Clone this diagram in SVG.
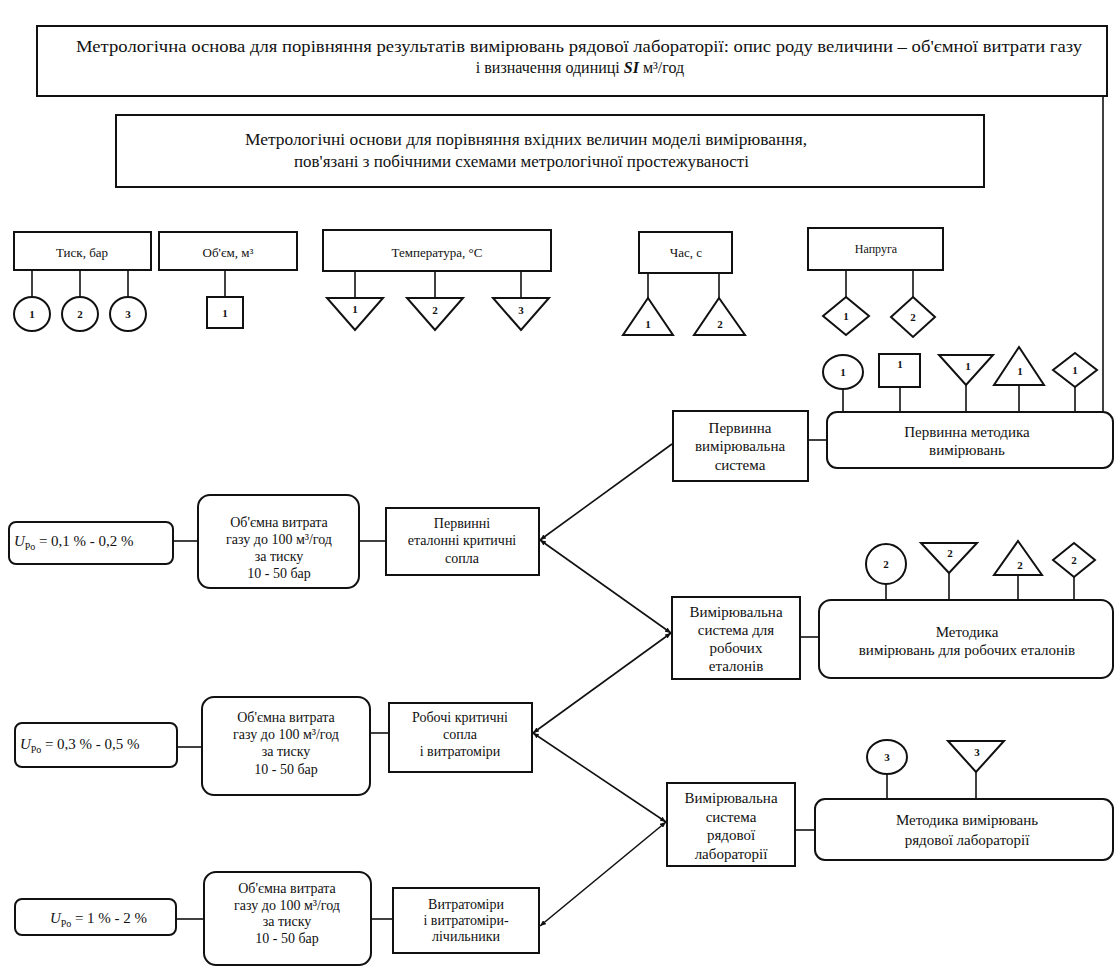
<svg xmlns="http://www.w3.org/2000/svg" width="1115" height="969" viewBox="0 0 1115 969">
<style>
.bx{fill:#fff;stroke:#111;stroke-width:2}
.sh{fill:#fff;stroke:#111;stroke-width:2}
.ln{stroke:#111;stroke-width:1.6;fill:none}
.t{font-family:"Liberation Serif","Times New Roman",serif;fill:#111}
.c{text-anchor:middle}
.f16{font-size:16px}
.f15{font-size:15px}
.f14{font-size:14px}
.f13{font-size:13px}
.f11{font-size:11px;font-weight:bold}
</style>
<defs>
<marker id="ah" markerUnits="userSpaceOnUse" markerWidth="7" markerHeight="5" refX="6" refY="2.5" orient="auto-start-reverse">
<path d="M0,0 L6,2.5 L0,5 z" fill="#111"/>
</marker>
</defs>
<rect width="1115" height="969" fill="#fff"/>

<g id="connectors">
<line class="ln" x1="1103" y1="96" x2="1103" y2="412"/>
<line class="ln" x1="32" y1="270" x2="32" y2="297"/>
<line class="ln" x1="80" y1="270" x2="80" y2="297"/>
<line class="ln" x1="128" y1="270" x2="128" y2="297"/>
<line class="ln" x1="225" y1="270" x2="225" y2="297"/>
<line class="ln" x1="355" y1="271" x2="355" y2="298"/>
<line class="ln" x1="435" y1="271" x2="435" y2="298"/>
<line class="ln" x1="521" y1="271" x2="521" y2="298"/>
<line class="ln" x1="648" y1="273" x2="648" y2="298"/>
<line class="ln" x1="719" y1="273" x2="719" y2="298"/>
<line class="ln" x1="846" y1="270" x2="846" y2="297"/>
<line class="ln" x1="913" y1="270" x2="913" y2="297"/>
<line class="ln" x1="843" y1="389" x2="843" y2="412"/>
<line class="ln" x1="900" y1="387" x2="900" y2="412"/>
<line class="ln" x1="966" y1="385" x2="966" y2="412"/>
<line class="ln" x1="1019" y1="385" x2="1019" y2="412"/>
<line class="ln" x1="1075" y1="387" x2="1075" y2="412"/>
<line class="ln" x1="886" y1="584" x2="886" y2="600"/>
<line class="ln" x1="949" y1="573" x2="949" y2="600"/>
<line class="ln" x1="1018" y1="575" x2="1018" y2="600"/>
<line class="ln" x1="1074" y1="576" x2="1074" y2="600"/>
<line class="ln" x1="887" y1="774" x2="887" y2="799"/>
<line class="ln" x1="976" y1="772" x2="976" y2="799"/>
<line class="ln" x1="808" y1="440" x2="827" y2="440"/>
<line class="ln" x1="800" y1="637" x2="819" y2="637"/>
<line class="ln" x1="795" y1="830" x2="815" y2="830"/>
<line class="ln" x1="173" y1="541" x2="198" y2="541"/>
<line class="ln" x1="359" y1="541" x2="386" y2="541"/>
<line class="ln" x1="177" y1="747" x2="202" y2="747"/>
<line class="ln" x1="370" y1="733" x2="389" y2="733"/>
<line class="ln" x1="176" y1="919" x2="204" y2="919"/>
<line class="ln" x1="371" y1="919" x2="393" y2="919"/>
<line class="ln" x1="672" y1="444" x2="540" y2="540" marker-end="url(#ah)"/>
<line class="ln" x1="540" y1="540" x2="671" y2="633" marker-start="url(#ah)" marker-end="url(#ah)"/>
<line class="ln" x1="533" y1="733" x2="671" y2="633" marker-start="url(#ah)" marker-end="url(#ah)"/>
<line class="ln" x1="533" y1="733" x2="666" y2="822" marker-start="url(#ah)" marker-end="url(#ah)"/>
<line class="ln" x1="540" y1="926" x2="666" y2="822" marker-start="url(#ah)" marker-end="url(#ah)"/>
</g>

<g id="top-basis">
<rect class="bx" x="37" y="26" width="1070" height="70"/>
<text class="t f16" x="76" y="52" textLength="1006" lengthAdjust="spacingAndGlyphs">Метрологічна основа для порівняння результатів вимірювань   рядової лабораторії: опис  роду величини – об'ємної витрати газу</text>
<text class="t f16 c" x="580" y="73">і визначення одиниці <tspan font-style="italic" font-weight="bold">SI</tspan> м³/год</text>
</g>

<g id="input-basis">
<rect class="bx" x="116" y="115" width="868" height="72"/>
<text class="t f16" x="245" y="145" textLength="562" lengthAdjust="spacingAndGlyphs">Метрологічні основи для порівняння вхідних величин  моделі вимірювання,</text>
<text class="t f16" x="294" y="167" textLength="455" lengthAdjust="spacingAndGlyphs">пов'язані з побічними схемами метрологічної простежуваності</text>
</g>

<g id="pressure">
<rect class="bx" x="14" y="232" width="137" height="38"/>
<text class="t f13 c" x="82" y="257">Тиск, бар</text>
<ellipse class="sh" cx="32" cy="314" rx="18" ry="17"/>
<text class="t f11 c" x="32" y="318">1</text>
<ellipse class="sh" cx="80" cy="314" rx="18" ry="17"/>
<text class="t f11 c" x="80" y="318">2</text>
<ellipse class="sh" cx="128" cy="314" rx="18" ry="17"/>
<text class="t f11 c" x="128" y="318">3</text>
</g>

<g id="volume">
<rect class="bx" x="159" y="232" width="138" height="38"/>
<text class="t f13 c" x="228" y="257">Об'єм, м³</text>
<rect class="sh" x="207" y="297" width="36" height="31"/>
<text class="t f11 c" x="225" y="317">1</text>
</g>

<g id="temperature">
<rect class="bx" x="323" y="230" width="228" height="41"/>
<text class="t f13 c" x="437" y="257">Температура, °С</text>
<polygon class="sh" points="327,298 383,298 355,330"/>
<text class="t f11 c" x="355" y="313">1</text>
<polygon class="sh" points="407,298 463,298 435,330"/>
<text class="t f11 c" x="435" y="314">2</text>
<polygon class="sh" points="493,298 549,298 521,330"/>
<text class="t f11 c" x="521" y="314">3</text>
</g>

<g id="time">
<rect class="bx" x="639" y="232" width="93" height="41"/>
<text class="t f13 c" x="686" y="257">Час, с</text>
<polygon class="sh" points="648,298 673,335 623,335"/>
<text class="t f11 c" x="648" y="328">1</text>
<polygon class="sh" points="719,298 745,335 694,335"/>
<text class="t f11 c" x="720" y="328">2</text>
</g>

<g id="voltage">
<rect class="bx" x="808" y="228" width="135" height="42"/>
<text class="t c" style="font-size:12px" x="876" y="253">Напруга</text>
<polygon class="sh" points="846,297 869,316 846,335 823,316"/>
<text class="t f11 c" x="846" y="320">1</text>
<polygon class="sh" points="913,297 935,317 913,337 891,317"/>
<text class="t f11 c" x="913" y="321">2</text>
</g>

<g id="primary-method">
<ellipse class="sh" cx="843" cy="372" rx="20" ry="17"/>
<text class="t f11 c" x="843" y="376">1</text>
<rect class="sh" x="879" y="354" width="41" height="33"/>
<text class="t f11 c" x="900" y="368">1</text>
<polygon class="sh" points="939,355 993,355 966,385"/>
<text class="t f11 c" x="968" y="370">1</text>
<polygon class="sh" points="1019,347 1044,385 994,385"/>
<text class="t f11 c" x="1020" y="375">1</text>
<polygon class="sh" points="1075,353 1097,370 1075,387 1053,370"/>
<text class="t f11 c" x="1075" y="374">1</text>
<rect class="bx" x="827" y="412" width="286" height="56" rx="10"/>
<text class="t f15 c" x="967" y="437">Первинна методика</text>
<text class="t f15 c" x="967" y="455">вимірювань</text>
</g>

<g id="primary-system">
<rect class="bx" x="673" y="411" width="135" height="70"/>
<text class="t f15 c" x="740" y="433">Первинна</text>
<text class="t f15 c" x="740" y="451">вимірювальна</text>
<text class="t f15 c" x="740" y="470">система</text>
</g>

<g id="working-method">
<ellipse class="sh" cx="886" cy="564" rx="20" ry="20"/>
<text class="t f11 c" x="886" y="568">2</text>
<polygon class="sh" points="921,543 977,543 949,573"/>
<text class="t f11 c" x="950" y="557">2</text>
<polygon class="sh" points="1018,541 1042,575 994,575"/>
<text class="t f11 c" x="1020" y="569">2</text>
<polygon class="sh" points="1074,543 1095,560 1074,577 1053,560"/>
<text class="t f11 c" x="1074" y="564">2</text>
<rect class="bx" x="819" y="600" width="294" height="78" rx="12"/>
<text class="t f15 c" x="967" y="637">Методика</text>
<text class="t f15 c" x="967" y="655">вимірювань  для робочих еталонів</text>
</g>

<g id="working-system">
<rect class="bx" x="672" y="597" width="128" height="82"/>
<text class="t f15 c" x="736" y="617">Вимірювальна</text>
<text class="t f15 c" x="736" y="635">система  для</text>
<text class="t f15 c" x="736" y="653">робочих</text>
<text class="t f15 c" x="736" y="671">еталонів</text>
</g>

<g id="lab-method">
<ellipse class="sh" cx="887" cy="757" rx="20" ry="17"/>
<text class="t f11 c" x="887" y="761">3</text>
<polygon class="sh" points="948,741 1004,741 976,772"/>
<text class="t f11 c" x="977" y="756">3</text>
<rect class="bx" x="815" y="799" width="298" height="61" rx="10"/>
<text class="t f15 c" x="967" y="825">Методика вимірювань</text>
<text class="t f15 c" x="967" y="845">рядової лабораторії</text>
</g>

<g id="lab-system">
<rect class="bx" x="667" y="783" width="128" height="83"/>
<text class="t f15 c" x="731" y="803">Вимірювальна</text>
<text class="t f15 c" x="731" y="822">система</text>
<text class="t f15 c" x="731" y="840">рядової</text>
<text class="t f15 c" x="731" y="859">лабораторії</text>
</g>

<g id="u1">
<rect class="bx" x="9" y="522" width="164" height="42" rx="7"/>
<text class="t f15" x="14" y="546"><tspan font-style="italic">U</tspan><tspan font-size="10" dy="4">Ро</tspan><tspan dy="-4"> = 0,1 % - 0,2 %</tspan></text>
</g>
<g id="flow1">
<rect class="bx" x="198" y="495" width="161" height="93" rx="12"/>
<text class="t f14 c" x="279" y="527">Об'ємна витрата</text>
<text class="t f14 c" x="279" y="544">газу до 100 м³/год</text>
<text class="t f14 c" x="279" y="561">за тиску</text>
<text class="t f14 c" x="279" y="578">10 - 50 бар</text>
</g>
<g id="nozzles1">
<rect class="bx" x="386" y="508" width="153" height="67"/>
<text class="t f14 c" x="462" y="528">Первинні</text>
<text class="t f14 c" x="462" y="545">еталонні критичні</text>
<text class="t f14 c" x="462" y="563">сопла</text>
</g>

<g id="u2">
<rect class="bx" x="15" y="723" width="162" height="44" rx="7"/>
<text class="t f15" x="20" y="749"><tspan font-style="italic">U</tspan><tspan font-size="10" dy="4">Ро</tspan><tspan dy="-4"> = 0,3 % - 0,5 %</tspan></text>
</g>
<g id="flow2">
<rect class="bx" x="202" y="697" width="168" height="98" rx="12"/>
<text class="t f14 c" x="286" y="722">Об'ємна витрата</text>
<text class="t f14 c" x="286" y="739">газу до 100 м³/год</text>
<text class="t f14 c" x="286" y="756">за тиску</text>
<text class="t f14 c" x="286" y="774">10 - 50 бар</text>
</g>
<g id="nozzles2">
<rect class="bx" x="389" y="703" width="143" height="69"/>
<text class="t f14 c" x="460" y="722">Робочі критичні</text>
<text class="t f14 c" x="460" y="739">сопла</text>
<text class="t f14 c" x="460" y="756">і витратоміри</text>
</g>

<g id="u3">
<rect class="bx" x="15" y="899" width="161" height="36" rx="7"/>
<text class="t f15" x="50" y="923"><tspan font-style="italic">U</tspan><tspan font-size="10" dy="4">Ро</tspan><tspan dy="-4"> = 1 % - 2 %</tspan></text>
</g>
<g id="flow3">
<rect class="bx" x="204" y="872" width="167" height="93" rx="12"/>
<text class="t f14 c" x="287" y="893">Об'ємна витрата</text>
<text class="t f14 c" x="287" y="910">газу до 100 м³/год</text>
<text class="t f14 c" x="287" y="926">за  тиску</text>
<text class="t f14 c" x="287" y="943">10 - 50 бар</text>
</g>
<g id="meters">
<rect class="bx" x="393" y="888" width="146" height="65"/>
<text class="t f14 c" x="466" y="909">Витратоміри</text>
<text class="t f14 c" x="466" y="925">і витратоміри-</text>
<text class="t f14 c" x="466" y="941">лічильники</text>
</g>
</svg>
